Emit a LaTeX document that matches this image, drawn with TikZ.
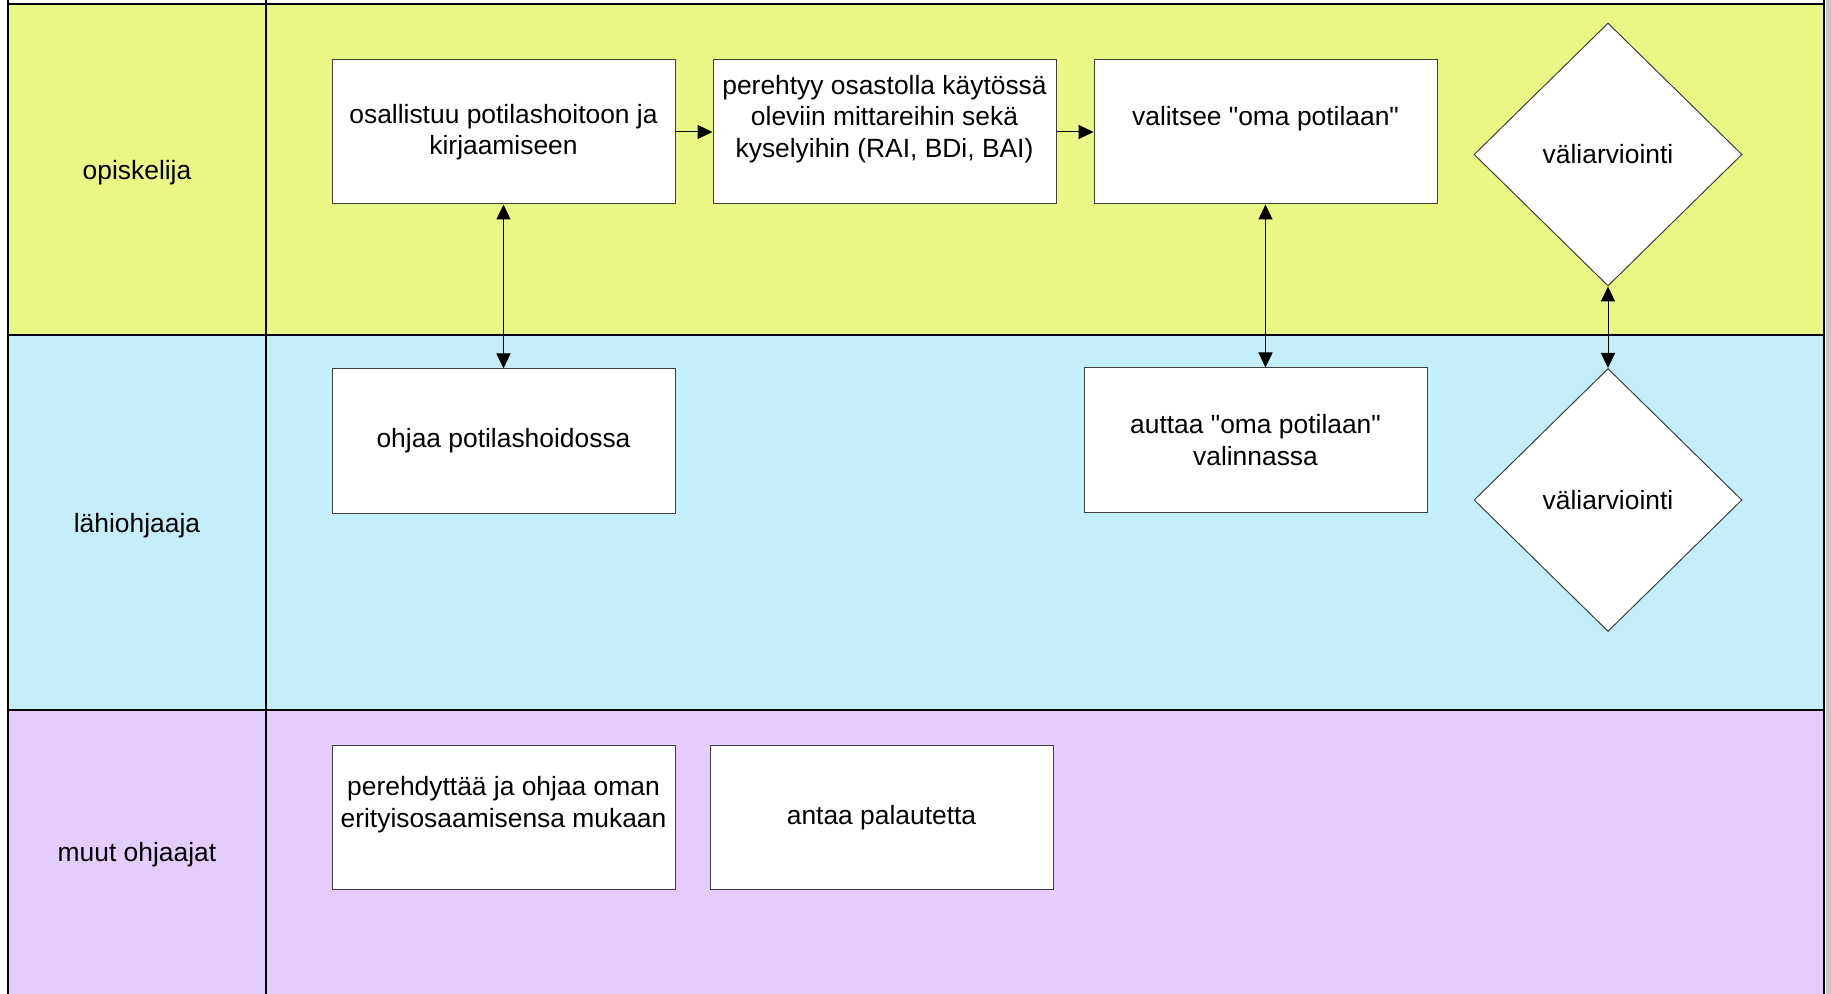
\documentclass[tikz,border=0pt]{standalone}
\usepackage{fontspec}
\setmainfont{Liberation Sans}[Ligatures=TeXOff]
\usetikzlibrary{arrows.meta,positioning,shapes.geometric}
\definecolor{opiskfill}{RGB}{233,247,133}
\definecolor{lahifill}{RGB}{196,238,250}
\definecolor{muutfill}{RGB}{229,204,255}
\tikzset{%
   txt/.style={font=\fontsize{13.2}{15.75}\selectfont},
   box/.style={txt, rectangle, draw=black!75, fill=white, line width=0.5pt, minimum width=171.5pt, minimum height=72pt, inner sep=0pt, align=center},
   choice/.style={txt, diamond, aspect=1, draw=black!75, fill=white, line width=0.5pt, minimum width=134pt, minimum height=131.5pt, inner sep=0pt},
   lane/.style={draw=black, line width=1pt},
   fwd/.style={-{Triangle[length=7.5pt,width=7pt]}, line width=0.5pt},
   both/.style={{Triangle[length=7.5pt,width=7pt]}-{Triangle[length=7.5pt,width=7pt]}, line width=0.5pt},
}

\begin{document}
\begin{tikzpicture}[x=0.5pt, y=-0.5pt]
         \useasboundingbox (0,0) rectangle (1831,994);
         \clip (0,0) rectangle (1831,994);
         \fill[white] (0,0) rectangle (1831,994);
         \fill[black!22] (1826,0) rectangle (1831,994);
         \fill[opiskfill] (8,4) rectangle (1824,335);
         \fill[lahifill] (8,335) rectangle (1824,710);
         \fill[muutfill] (8,710) rectangle (1824,1000);
         \draw[lane] (8,0) -- (8,1000);
         \draw[lane] (266,0) -- (266,1000);
         \draw[lane] (1824,0) -- (1824,1000);
         \draw[lane] (8,4) -- (1824,4);
         \draw[lane] (8,335) -- (1824,335);
         \draw[lane] (8,710) -- (1824,710);
         \node[txt] (lopisk) at (137,172.5) {opiskelija};
         \node[txt] (llahi) at (137,525.5) {lähiohjaaja};
         \node[txt] (lmuut) at (137,855) {muut ohjaajat};
         \node[box] (osall) at (503.5,132) {osallistuu potilashoitoon ja\\kirjaamiseen};
         \node[box, right=18.5pt of osall] (pereh) {perehtyy osastolla käytössä\\oleviin mittareihin sekä\\kyselyihin (RAI, BDi, BAI)\\\mbox{}};
         \node[box, right=18.5pt of pereh] (valit) {valitsee "oma potilaan"\\\mbox{}};
         \node[choice] (arvio1) at (1608,154.5) {väliarviointi};
         \node[box, below=82pt of osall] (ohjaa) {ohjaa potilashoidossa};
         \node[box] (auttaa) at (1255.5,440) {auttaa "oma potilaan"\\valinnassa};
         \node[choice] (arvio2) at (1608,500) {väliarviointi};
         \node[box] (perehd) at (503.5,817.5) {perehdyttää ja ohjaa oman\\erityisosaamisensa mukaan\\\mbox{}};
         \node[box, right=17pt of perehd] (antaa) {antaa palautetta};
         \draw[fwd] (osall) -- (pereh);
         \draw[fwd] (pereh) -- (valit);
         \draw[both] (osall.south) -- (ohjaa.north);
         \draw[both] (valit.south) -- (valit.south |- auttaa.north);
         \draw[both] (arvio1.south) -- (arvio2.north);
      \end{tikzpicture}
\end{document}
